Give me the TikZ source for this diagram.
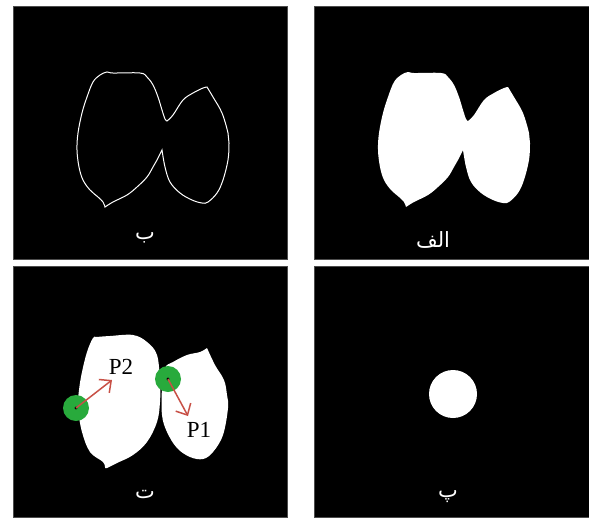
\documentclass[tikz,border=0pt]{standalone}
\usepackage{fontspec}
\usetikzlibrary{arrows.meta}
\TeXXeTstate=1
\newfontfamily\arabicfont[Script=Arabic]{DejaVu Sans}
\newfontfamily\serifp{Liberation Serif}
\definecolor{spotgreen}{RGB}{40,170,60}
\definecolor{arrowred}{RGB}{200,80,70}
\tikzset{
  panel/.style={fill=black,draw=black!70!white,line width=0.6pt},
  arlabel/.style={text=white,font=\arabicfont\fontsize{21}{24}\selectfont,inner sep=0pt},
  plabel/.style={text=black,font=\serifp\fontsize{23}{26}\selectfont,inner sep=0pt},
  spot/.style={circle,fill=spotgreen,minimum size=26pt,inner sep=0pt},
  vecarrow/.style={draw=arrowred,line width=1.5pt,-{Straight Barb[length=9pt,width=17pt,line width=1.5pt]}},
}
\newcommand\bilobepath{
  (105,207) -- plot[smooth,tension=0.6] coordinates {(105,207)(103,202)(98,197)(90,190)(83,180)(79,167)(77,150)(78,133)(82,113)(87,97)(93,82)(100,75)(107,72)(113,73)(140,73)(147,77)(153,85)(158,97)(162,110)(165,119)(167,121)}
  -- plot[smooth,tension=0.6] coordinates {(167,121)(173,115)(183,100)(193,93)(203,88)(207,87)}
  -- plot[smooth,tension=0.6] coordinates {(207,87)(213,97)(222,113)(228,133)(229,143)(228,160)(223,180)(217,193)(208,202)(202,203)(192,200)(180,193)(170,182)(165,167)(162,150)}
  -- plot[smooth,tension=0.6] coordinates {(162,150)(157,160)(153,167)(147,177)(137,187)(127,195)(113,202)(105,207)}
  -- cycle}
\begin{document}
\begin{tikzpicture}[x=1pt,y=-1pt]
\useasboundingbox (0,0) rectangle (589,517);
\fill[white] (0,0) rectangle (589,517);
% panels
\path[panel] (13,6) rectangle (287,259);
\path[panel] (314,6) rectangle (589,259);
\path[panel] (13,266) rectangle (287,517);
\path[panel] (314,266) rectangle (589,517);
% top-left: edge outline
\draw[white,line width=1pt] \bilobepath;
% top-right: filled
\begin{scope}[shift={(301,0)}]
\fill[white] \bilobepath;
\end{scope}
% bottom-left: separated lobes
\begin{scope}[shift={(0,260)}]
\fill[white] (105,208) -- plot[smooth,tension=0.6] coordinates {(105,208)(103,202)(90,192)(82,172)(78,148)(79,130)(82,112)(87,92)(93,78)(97,77)(110,76)(133,75)(147,82)(157,95)(160,122)(160,142)(157,162)(147,182)(133,195)(117,203)(107,208)} -- cycle;
\fill[white] (207,88) -- plot[smooth,tension=0.6] coordinates {(207,88)(215,105)(224,120)(227,135)(228,148)(223,175)(213,192)(203,199)(190,197)(177,188)(167,172)(162,155)(162,128)(165,108)(173,102)(187,95)(200,92)(207,88)} -- cycle;
\end{scope}
\node[spot] (s2) at (76,408) {};
\node[spot] (s1) at (168,379) {};
\fill[black] (s2.center) circle (1.6pt);
\fill[black] (s1.center) circle (1.6pt);
\coordinate (e2) at (112,380);
\coordinate (e1) at (188,416);
\draw[vecarrow] (s2.center) -- (e2);
\draw[vecarrow] (s1.center) -- (e1);
\node[plabel] (p2) at (121,367) {P2};
\node[plabel] (p1) at (199,430) {P1};
% bottom-right: disc
\fill[white] (453,394) circle (24);
% labels
\node[arlabel] (lb) at (145,238) {\beginR ب\endR};
\node[arlabel] (lalef) at (433,240) {\beginR الف\endR};
\node[arlabel] (lt) at (145,494) {\beginR ت\endR};
\node[arlabel] (lp) at (448,497) {\beginR پ\endR};
\end{tikzpicture}
\end{document}
